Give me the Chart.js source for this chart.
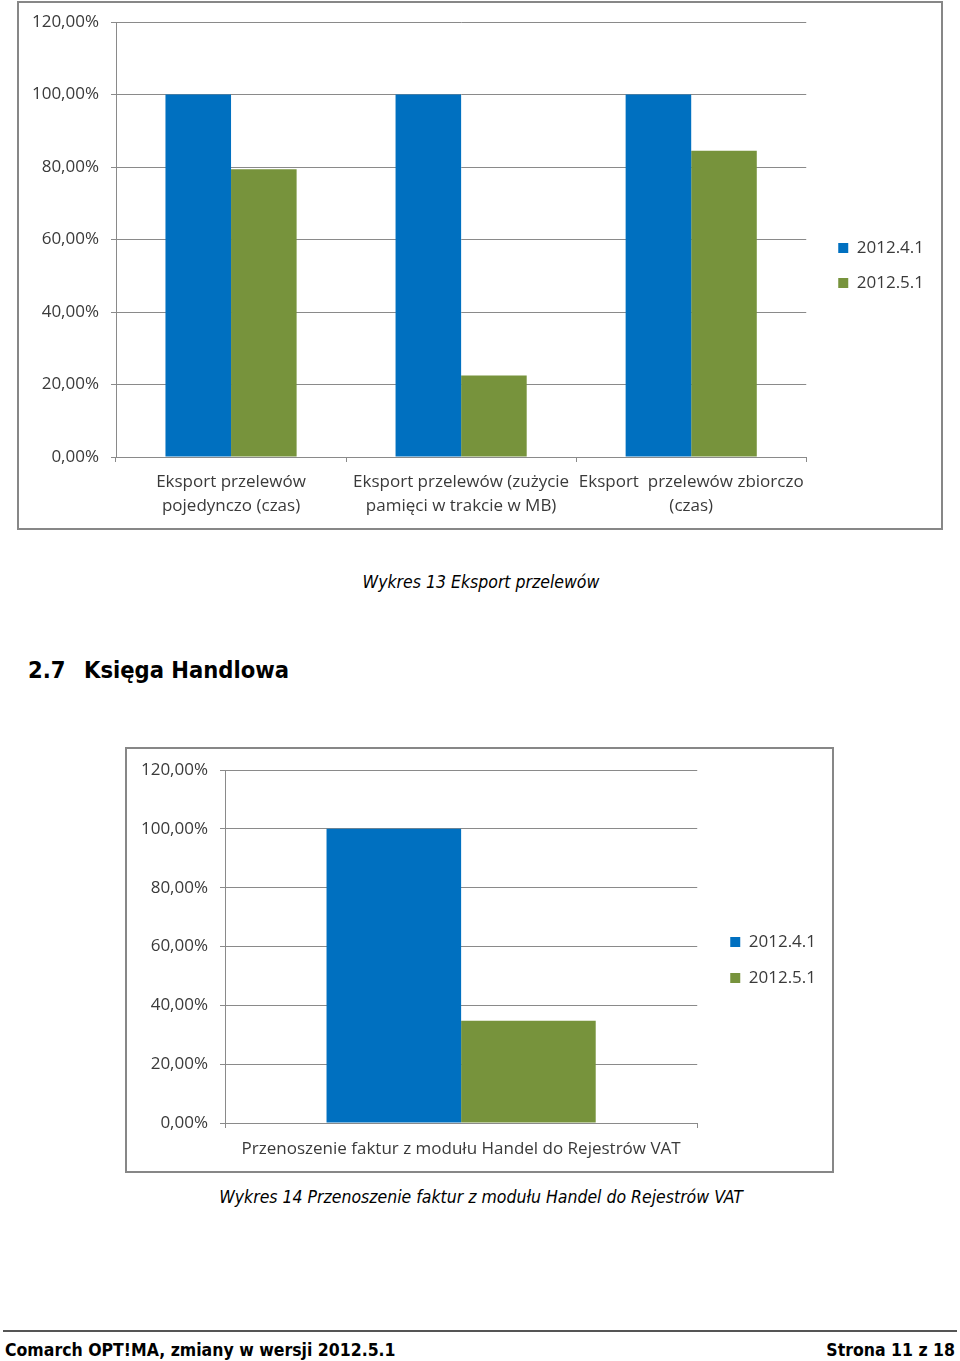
<!DOCTYPE html>
<html lang="pl">
<head>
<meta charset="utf-8">
<title>Wykres 13 i Wykres 14</title>
<script src="https://cdn.jsdelivr.net/npm/chart.js@4.4.1/dist/chart.umd.min.js"></script>
<style>
  body {
    margin: 0;
    background: #fff;
    width: 960px;
    height: 1361px;
    position: relative;
    overflow: hidden;
    font-family: "DejaVu Sans Condensed", "DejaVu Sans", sans-serif;
    font-stretch: condensed;
    color: #000;
  }
  .frame { position: absolute; border: 2px solid #878787; background: #fff; }
  .frame canvas { display: block; }
  #frame1 { left: 17px; top: 1px; width: 922px; height: 525px; }
  #frame2 { left: 125px; top: 747px; width: 705px; height: 422px; }
  .caption {
    position: absolute; left: 0; width: 962px; text-align: center;
    font-style: italic; font-size: 17.5px; line-height: 20px;
  }
  .heading { position: absolute; top: 656px; font-size: 23.5px; line-height: 28px; font-weight: bold; }
  .rule { position: absolute; left: 3px; top: 1330px; width: 954px; height: 2px; background: #555; }
  .foot { position: absolute; top: 1340px; font-size: 17.5px; line-height: 20px; font-weight: bold; }
</style>
</head>
<body>

<div class="frame" id="frame1"><canvas id="chart1" width="922" height="525"></canvas></div>
<div class="caption" style="top:572px">Wykres 13 Eksport przelewów</div>

<div class="heading" style="left:28px">2.7</div>
<div class="heading" style="left:84px">Księga Handlowa</div>

<div class="frame" id="frame2"><canvas id="chart2" width="705" height="422"></canvas></div>
<div class="caption" style="top:1187px">Wykres 14 Przenoszenie faktur z modułu Handel do Rejestrów VAT</div>

<div class="rule"></div>
<div class="foot" style="left:5px">Comarch OPT!MA, zmiany w wersji 2012.5.1</div>
<div class="foot" style="right:5px">Strona 11 z 18</div>

<script>
// serie
const seriesNames = ['2012.4.1', '2012.5.1'];
const seriesColors = ['#0070C0', '#77933C'];

// Wykres 13 - Eksport przelewów
const przelewyLabels = [
  ['Eksport przelewów', 'pojedynczo (czas)'],
  ['Eksport przelewów (zużycie', 'pamięci w trakcie w MB)'],
  ['Eksport  przelewów zbiorczo', '(czas)']
];
const przelewy2012_4 = [100, 100, 100];
const przelewy2012_5 = [79.4, 22.5, 84.5];

// Wykres 14 - Księga Handlowa
const handlowaLabels = ['Przenoszenie faktur z modułu Handel do Rejestrów VAT'];
const handlowa2012_4 = [100];
const handlowa2012_5 = [34.8];

// oś Y
const yMin = 0;
const yMax = 120;
const yStep = 20;

const gridColor = '#8a8a8a';
const textColor = '#3a3a3a';
const yTickPad = 12;

Chart.defaults.font.family = '"Open Sans", sans-serif';
Chart.defaults.color = textColor;

function drawChart(canvasId, labels, data4, data5, lay) {
  const ctx = document.getElementById(canvasId).getContext('2d');
  return new Chart(ctx, {
    type: 'bar',
    data: {
      labels: labels,
      datasets: [
        { label: seriesNames[0], data: data4, backgroundColor: seriesColors[0], yAxisID: 'y' },
        { label: seriesNames[1], data: data5, backgroundColor: seriesColors[1], yAxisID: 'y' }
      ]
    },
    options: {
      responsive: false,
      animation: false,
      layout: { padding: { left: 0, top: 0, bottom: 0, right: lay.padRight } },
      datasets: { bar: { barPercentage: 1, categoryPercentage: 0.57 } },
      plugins: {
        legend: {
          position: 'right',
          labels: {
            boxWidth: 10,
            boxHeight: 10,
            padding: lay.legendPad,
            color: textColor,
            font: { size: 17 }
          }
        },
        tooltip: { enabled: false }
      },
      scales: {
        x: {
          grid: { drawOnChartArea: false, tickLength: 5, color: gridColor },
          border: { color: gridColor },
          ticks: {
            autoSkip: false,
            maxRotation: 0,
            padding: lay.xPad,
            color: textColor,
            font: { size: lay.xFont, lineHeight: 24 / lay.xFont }
          },
          afterFit: scale => { scale.height = lay.xHeight; }
        },
        y: {
          min: yMin,
          max: yMax,
          grid: { color: gridColor, tickLength: 5 },
          border: { color: gridColor },
          ticks: {
            stepSize: yStep,
            padding: yTickPad,
            color: textColor,
            // odstęp nad wykresem = połowa wysokości etykiety + padding
            font: { size: 17, lineHeight: (2 * (lay.top - yTickPad)) / 17 },
            callback: v => v.toFixed(2).replace('.', ',') + '%'
          },
          afterFit: scale => { scale.width = lay.yWidth; }
        },
        // pusty odstęp między wykresem a legendą
        gap: {
          type: 'linear',
          position: 'right',
          grid: { display: false },
          border: { display: false },
          ticks: { display: false },
          afterFit: scale => { scale.width = 14; }
        }
      }
    }
  });
}

drawChart('chart1', przelewyLabels, przelewy2012_4, przelewy2012_5,
  { top: 19, padRight: 7, legendPad: 18, xPad: 8, xFont: 17, xHeight: 71, yWidth: 97 });

drawChart('chart2', handlowaLabels, handlowa2012_4, handlowa2012_5,
  { top: 21, padRight: 6, legendPad: 19, xPad: 9, xFont: 17, xHeight: 48, yWidth: 98 });
</script>
</body>
</html>
